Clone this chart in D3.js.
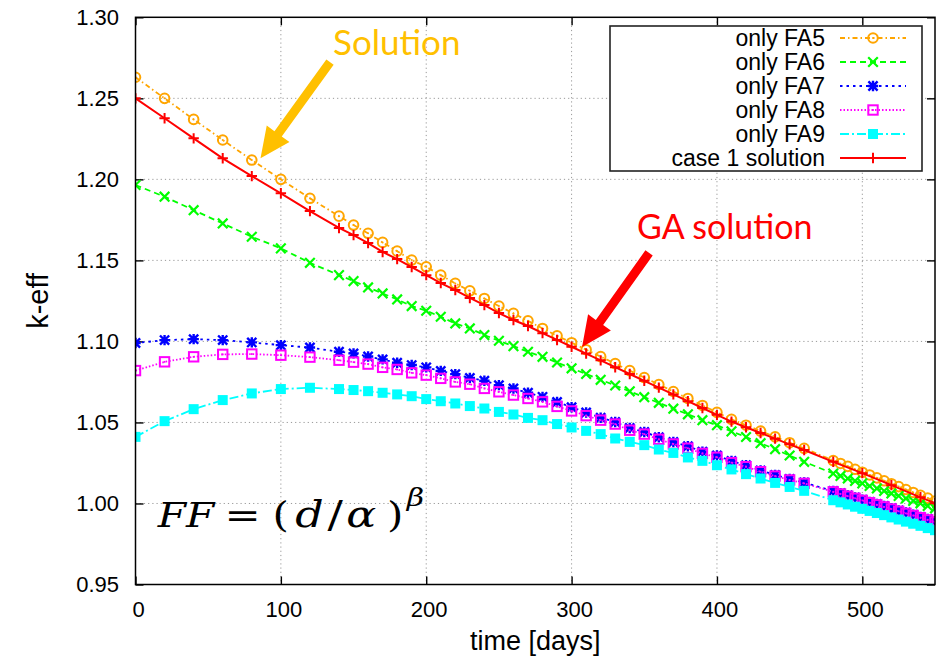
<!DOCTYPE html>
<html><head><meta charset="utf-8">
<script src="https://cdn.jsdelivr.net/npm/d3@7"></script>
<style>body{margin:0;background:#fff}svg{display:block}</style>
</head><body><svg id="c" width="941" height="659"></svg>
<script>
// ---------------- data ----------------
const days = [0,20,40,60,80,100,120,140,150,160,170,180,190,200,210,220,230,240,250,260,270,280,
  290,300,310,320,330,340,350,360,370,380,390,400,410,420,430,440,450,460,
  480,485,490,495,500,505,510,515,520,525,530,535,540,545,550];
const daysCase1 = [0,20,40,60,80,100,120,140,150,160,170,180,190,200,210,220,230,240,250,260,270,280,
  290,300,310,320,330,340,350,360,370,380,390,400,410,420,430,440,450,460,480,500,520,540,550];

const onlyFA5 = [1.263,1.250,1.237,1.2243,1.2119,1.2,1.1883,1.1773,
  1.1718,1.1667,1.1611,1.1557,1.1502,1.146,1.1409,1.1358,1.1312,1.1265,1.1218,1.1173,1.1127,1.108,
  1.1035,1.0992,1.0949,1.0906,1.0863,1.082,1.0777,1.0734,1.0691,1.0648,1.0605,1.0562,1.0519,1.0483,1.0447,1.0411,1.0375,1.034,
  1.0265,1.0247,1.0229,1.0211,1.0193,1.0176,1.0158,1.014,1.0122,1.0104,1.0086,1.0068,1.005,1.0033,1.0015];
const onlyFA6 = [1.1965,1.1893,1.181,1.1728,1.1646,1.1574,1.1485,1.1409,
  1.1372,1.1333,1.1296,1.1259,1.1218,1.1189,1.1152,1.1111,1.108,1.1039,1.1004,1.0971,1.0936,1.0905,
  1.087,1.0834,1.0799,1.0763,1.0728,1.0692,1.0656,1.0621,1.0585,1.055,1.0514,1.0483,1.0445,1.041,1.0372,1.0335,1.0296,1.0257,
  1.0185,1.017,1.0154,1.0139,1.0124,1.0108,1.0093,1.0077,1.0062,1.0047,1.0031,1.0016,1.0001,0.9985,0.997];
const onlyFA7 = [1.099,1.1008,1.1014,1.1008,1.0994,1.0977,1.0962,1.0936,
  1.0926,1.0907,1.0889,1.0868,1.0854,1.084,1.0818,1.0798,1.0775,1.0757,1.073,1.0709,1.0683,1.0658,
  1.0626,1.0594,1.0561,1.0529,1.0503,1.0466,1.0441,1.0409,1.0379,1.0353,1.032,1.0296,1.0262,1.0236,1.0204,1.0176,1.0151,1.0129,
  1.0077,1.0064,1.005,1.0037,1.0024,1.001,0.9997,0.9984,0.9971,0.9957,0.9944,0.9931,0.9917,0.9904,0.9891];
const onlyFA8 = [1.082,1.0874,1.0905,1.092,1.0922,1.0915,1.0903,1.0884,
  1.0872,1.086,1.084,1.0827,1.0806,1.0792,1.0772,1.075,1.0736,1.071,1.0689,1.0669,1.0648,1.0627,
  1.0599,1.0571,1.0542,1.0514,1.049,1.0452,1.0428,1.0396,1.0367,1.0341,1.0309,1.0285,1.0252,1.0227,1.0196,1.0169,1.0145,1.0124,
  1.0072,1.0059,1.0045,1.0032,1.0019,1.0005,0.9992,0.9979,0.9966,0.9952,0.9939,0.9926,0.9912,0.9899,0.9886];
const onlyFA9 = [1.0411,1.0508,1.0582,1.0638,1.0679,1.0706,1.0714,1.0706,
  1.07,1.0693,1.0683,1.0673,1.0662,1.0644,1.0631,1.0617,1.0601,1.0586,1.0565,1.0549,1.0528,1.0514,
  1.049,1.0469,1.0448,1.0428,1.0401,1.038,1.036,1.0333,1.0312,1.0284,1.0263,1.0236,1.021,1.0181,1.0154,1.0127,1.0102,1.0078,
  1.002,1.0007,0.9994,0.998,0.9967,0.9954,0.9941,0.9928,0.9914,0.9901,0.9888,0.9875,0.9862,0.9848,0.9835];
const case1Solution = [1.25,1.2377,1.2253,1.213,1.202,1.1914,1.1804,1.17,
  1.1656,1.1607,1.1552,1.1508,1.1459,1.1409,1.136,1.1317,1.1268,1.1224,1.1175,1.1132,1.1095,1.1051,
  1.1009,1.0967,1.0925,1.0883,1.0841,1.0799,1.0757,1.0715,1.0673,1.0631,1.0589,1.0547,1.0505,1.047,1.0435,1.04,1.0365,1.033,
  1.0257,1.0187,1.0113,1.0038,1.0002];

const seriesNames = ["only FA5","only FA6","only FA7","only FA8","only FA9","case 1 solution"];
const xTicks = [0,100,200,300,400,500];
const yTicks = [0.95,1.00,1.05,1.10,1.15,1.20,1.25,1.30];
const xTitle = "time [days]";
const yTitle = "k-eff";

// ---------------- layout / style ----------------
const W = 941, H = 659;
const L = 135.5, R = 935, T = 17.3, B = 584.5;
const x = d3.scaleLinear().domain([0,550]).range([L,R]);
const y = d3.scaleLinear().domain([0.95,1.30]).range([B,T]);

const styles = [
  {color:"#ffa500", dash:"5,3,1.5,3", marker:"circle"},
  {color:"#00ff00", dash:"6,4",       marker:"x"},
  {color:"#0000ff", dash:"2.5,4",     marker:"star"},
  {color:"#ff00ff", dash:"1.5,2",     marker:"square"},
  {color:"#00ffff", dash:"9,3,2,3",   marker:"fsquare"},
  {color:"#ff0000", dash:null,        marker:"plus"}
];
const seriesX = [days,days,days,days,days,daysCase1];
const seriesY = [onlyFA5,onlyFA6,onlyFA7,onlyFA8,onlyFA9,case1Solution];

const svg = d3.select("#c");
svg.append("rect").attr("width",W).attr("height",H).attr("fill","#fff");
svg.append("defs").append("clipPath").attr("id","plot")
  .append("rect").attr("x",L).attr("y",T).attr("width",R-L).attr("height",B-T);

// grid
const grid = svg.append("g").attr("stroke","#999").attr("stroke-width",1).attr("stroke-dasharray","1.2,3");
grid.selectAll("line.gy").data(yTicks.filter(v=>v>0.951&&v<1.299)).join("line")
  .attr("x1",L).attr("x2",R).attr("y1",d=>y(d)).attr("y2",d=>y(d));
grid.selectAll("line.gx").data(xTicks.filter(v=>v>0)).join("line")
  .attr("y1",T).attr("y2",B).attr("x1",d=>x(d)).attr("x2",d=>x(d));

// axes with d3 axis generators (inward ticks, mirrored)
const font = "'Liberation Sans', Arial, Helvetica, sans-serif";
const axL = svg.append("g").attr("transform",`translate(${L},0)`)
  .call(d3.axisRight(y).tickValues(yTicks).tickSize(8).tickFormat(""));
const axR = svg.append("g").attr("transform",`translate(${R},0)`)
  .call(d3.axisLeft(y).tickValues(yTicks).tickSize(8).tickFormat(""));
const axB = svg.append("g").attr("transform",`translate(0,${B})`)
  .call(d3.axisTop(x).tickValues(xTicks).tickSize(8).tickFormat(""));
const axT = svg.append("g").attr("transform",`translate(0,${T})`)
  .call(d3.axisBottom(x).tickValues(xTicks).tickSize(8).tickFormat(""));
[axL,axR,axB,axT].forEach(a=>{a.select(".domain").remove(); a.selectAll("line").attr("stroke","#000").attr("stroke-width",1.4);});

// tick labels
svg.append("g").selectAll("text").data(yTicks).join("text")
  .attr("x",119).attr("y",d=>y(d)).attr("dy","0.36em").attr("text-anchor","end")
  .attr("font-family",font).attr("font-size",22).attr("fill","#000")
  .text(d=>d.toFixed(2));
svg.append("g").selectAll("text").data(xTicks).join("text")
  .attr("x",d=>x(d)+3).attr("y",617).attr("text-anchor","middle")
  .attr("font-family",font).attr("font-size",22).attr("fill","#000")
  .text(d=>d);
svg.append("text").attr("x",(L+R)/2).attr("y",650).attr("text-anchor","middle")
  .attr("font-family",font).attr("font-size",27).text(xTitle);
svg.append("text").attr("transform",`translate(48,${(T+B)/2}) rotate(-90)`).attr("text-anchor","middle")
  .attr("font-family",font).attr("font-size",29).text(yTitle);

// markers
function drawMarker(g, type, color){
  if(type==="circle"){
    g.append("circle").attr("r",4.8).attr("fill","none").attr("stroke",color).attr("stroke-width",2);
    g.append("circle").attr("r",1).attr("fill",color);
  } else if(type==="x"){
    g.append("path").attr("d","M-4.8,-4.8L4.8,4.8M-4.8,4.8L4.8,-4.8").attr("stroke",color).attr("stroke-width",2.2);
  } else if(type==="star"){
    g.append("path").attr("d","M-4.6,-4.6L4.6,4.6M-4.6,4.6L4.6,-4.6M-5.2,0H5.2M0,-5.2V5.2").attr("stroke",color).attr("stroke-width",2.4);
  } else if(type==="square"){
    g.append("rect").attr("x",-4.7).attr("y",-4.7).attr("width",9.4).attr("height",9.4)
      .attr("fill","none").attr("stroke",color).attr("stroke-width",2);
    g.append("rect").attr("x",-0.9).attr("y",-0.9).attr("width",1.8).attr("height",1.8).attr("fill",color);
  } else if(type==="fsquare"){
    g.append("rect").attr("x",-5).attr("y",-5).attr("width",10).attr("height",10).attr("fill",color);
  } else if(type==="plus"){
    g.append("path").attr("d","M-5.2,0H5.2M0,-5.2V5.2").attr("stroke",color).attr("stroke-width",2);
  }
}

// series
const plot = svg.append("g").attr("clip-path","url(#plot)");
const line = d3.line().x(d=>x(d[0])).y(d=>y(d[1]));
seriesY.forEach((vals,i)=>{
  const st = styles[i];
  const pts = seriesX[i].map((t,j)=>[t,vals[j]]);
  const g = plot.append("g");
  g.append("path").datum(pts).attr("d",line).attr("fill","none").attr("stroke",st.color)
    .attr("stroke-width",i===5?2:1.8).attr("stroke-dasharray",st.dash);
  g.selectAll("g.m").data(pts).join("g").attr("class","m")
    .attr("transform",d=>`translate(${x(d[0])},${y(d[1])})`)
    .each(function(){ drawMarker(d3.select(this), st.marker, st.color); });
});

// frame
svg.append("rect").attr("x",L).attr("y",T).attr("width",R-L).attr("height",B-T)
  .attr("fill","none").attr("stroke","#000").attr("stroke-width",1.5);

// legend
const lg = svg.append("g");
lg.append("rect").attr("x",610).attr("y",26).attr("width",312).attr("height",145)
  .attr("fill","#fff").attr("stroke","#222").attr("stroke-width",1.6);
seriesNames.forEach((name,i)=>{
  const cy = 38 + i*24, st = styles[i];
  lg.append("text").attr("x",825).attr("y",cy).attr("dy","0.36em").attr("text-anchor","end")
    .attr("font-family",font).attr("font-size",23).text(name);
  lg.append("line").attr("x1",840).attr("x2",906).attr("y1",cy).attr("y2",cy)
    .attr("stroke",st.color).attr("stroke-width",1.8).attr("stroke-dasharray",st.dash);
  drawMarker(lg.append("g").attr("transform",`translate(873,${cy})`), st.marker, st.color);
});

// formula
const fg = svg.append("g").attr("transform","translate(0,527) scale(1.2,1)")
  .attr("font-family","'DejaVu Serif', serif").attr("fill","#000");
[["F",131.5,true,34],["F",155,true,34],["=",187,false,36],["(",227,false,35],["d",246,true,37],["/",273,false,38],["α",288.5,true,37],[")",322.5,false,35]]
  .forEach(([t,px,it,fs])=>fg.append("text").attr("x",px).attr("y",0).attr("font-size",fs)
    .attr("font-style",it?"italic":"normal").text(t));
fg.append("text").attr("x",339).attr("y",-21).attr("font-size",25).attr("font-style","italic").text("β");

// annotations (positioned in data coordinates)
const annFont = "Lato, 'Open Sans', sans-serif";
function arrow(x0,y0,x1,y1,color){
  const dx=x1-x0, dy=y1-y0, len=Math.hypot(dx,dy), ux=dx/len, uy=dy/len, nx=-uy, ny=ux;
  const hl=30, hw=14, sw=4.5;
  const bx=x1-ux*hl, by=y1-uy*hl;
  const p=[[x0+nx*sw,y0+ny*sw],[bx+nx*sw,by+ny*sw],[bx+nx*hw,by+ny*hw],[x1,y1],[bx-nx*hw,by-ny*hw],[bx-nx*sw,by-ny*sw],[x0-nx*sw,y0-ny*sw]];
  svg.append("path").attr("d","M"+p.map(q=>q.join(",")).join("L")+"Z").attr("fill",color);
}
arrow(x(133.8),y(1.2724),x(86),y(1.2131),"#ffc000");
svg.append("text").attr("x",x(135.9)).attr("y",y(1.2767)).attr("font-family",annFont).attr("font-size",35)
  .attr("fill","#ffc000").text("Solution");
arrow(x(353.3),y(1.1546),x(307.2),y(1.0966),"#ff0000");
svg.append("text").attr("x",x(345)).attr("y",y(1.1632)).attr("font-family",annFont).attr("font-size",34)
  .attr("fill","#ff0000").text("GA solution");
</script></body></html>
